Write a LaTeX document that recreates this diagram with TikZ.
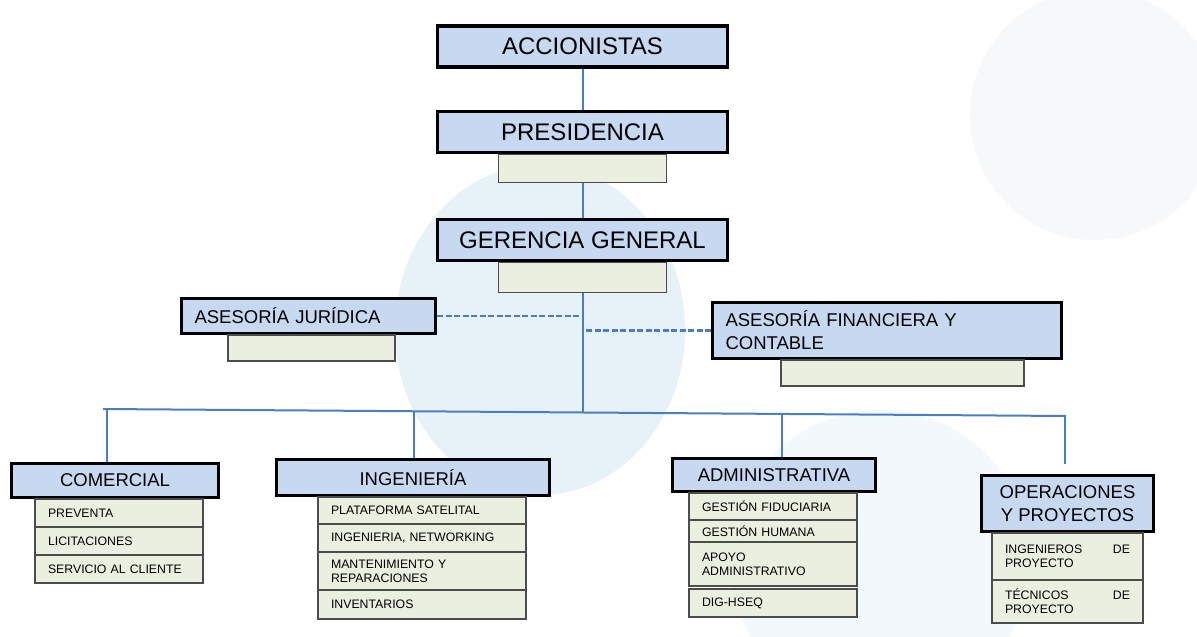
\documentclass[tikz,border=0pt]{standalone}
\usepackage{fontspec}
\setsansfont{Liberation Sans}
\usetikzlibrary{
	positioning,
	calc,
	backgrounds,
}
\definecolor{MyBlue}{HTML}{C6D9F1}
\definecolor{MyBeige}{HTML}{EBEFDF}
\definecolor{MyLine}{HTML}{4A7EC2}
\definecolor{MyHalo}{HTML}{E7F2F8}
\definecolor{MyMist}{HTML}{F2F8FB}
\definecolor{MyGrey}{HTML}{F7F8F9}
\tikzset{every picture/.style={/utils/exec={\sffamily}}}

\begin{document}
\begin{tikzpicture}[x=1pt,y=-1pt,
		every node/.style={inner sep=0pt,outer sep=0pt},
		cabeza/.style={draw=black,line width=3.2pt,outer sep=1.6pt,fill=MyBlue,font=\fontsize{24}{28}\selectfont,minimum width=289.5pt,minimum height=41pt},
		area/.style={draw=black,line width=3pt,outer sep=1.5pt,fill=MyBlue,font=\fontsize{18.5}{23}\selectfont,align=center},
		cargo/.style={draw=black!70,line width=1.1pt,fill=MyBeige,font=\fontsize{12.3}{14}\selectfont,align=left,inner xsep=13pt,text width=#1},
		enlace/.style={draw=MyLine,line width=2pt},
		asesor/.style={draw=MyLine,line width=2.8pt,dash pattern=on 6pt off 2.5pt},
	]

	\useasboundingbox (0,0) rectangle (1197,637);

	% cabeza
	\node (acc) [cabeza] at (582.5,46.5) {ACCIONISTAS};
	\node (pres) [cabeza] at (582.5,132) {PRESIDENCIA};
	\node (pres1) [cargo=142pt,minimum height=28pt,below=0pt of pres] {};
	\node (ger) [cabeza] at (582.5,240) {GERENCIA GENERAL};
	\node (ger1) [cargo=142pt,minimum height=30pt,below=0pt of ger] {};

	% asesorias
	\node (jur) [area,align=left,text width=228pt,minimum width=254pt,minimum height=35pt] at (308.5,316) {ASESORÍA JURÍDICA};
	\node (jur1) [cargo=141pt,minimum height=26pt,below=0pt of jur,xshift=3pt] {};
	\node (fin) [area,align=left,text width=323pt,minimum width=349pt,minimum height=56pt] at (887,330.5) {ASESORÍA FINANCIERA Y\\CONTABLE};
	\node (fin1) [cargo=217pt,minimum height=26pt,below=0pt of fin,xshift=15.5pt] {};

	% areas
	\node (com) [area,minimum width=207pt,minimum height=34pt] at (115,480.5) {COMERCIAL};
	\node (com1) [cargo=142pt,minimum height=28pt,below=0pt of com,xshift=4pt] {PREVENTA};
	\node (com2) [cargo=142pt,minimum height=28pt,below=0pt of com1] {LICITACIONES};
	\node (com3) [cargo=142pt,minimum height=28pt,below=0pt of com2] {SERVICIO AL CLIENTE};

	\node (ing) [area,minimum width=273pt,minimum height=36pt] at (413,477.5) {INGENIERÍA};
	\node (ing1) [cargo=182pt,minimum height=27pt,below=0pt of ing,xshift=9pt] {PLATAFORMA SATELITAL};
	\node (ing2) [cargo=182pt,minimum height=28pt,below=0pt of ing1] {INGENIERIA, NETWORKING};
	\node (ing3) [cargo=182pt,minimum height=38pt,below=0pt of ing2] {MANTENIMIENTO Y\\REPARACIONES};
	\node (ing4) [cargo=182pt,minimum height=29pt,below=0pt of ing3] {INVENTARIOS};

	\node (adm) [area,minimum width=203pt,minimum height=33pt] at (774,475) {ADMINISTRATIVA};
	\node (adm1) [cargo=142pt,minimum height=27pt,below=0pt of adm,xshift=-1pt] {GESTIÓN FIDUCIARIA};
	\node (adm2) [cargo=142pt,minimum height=22pt,below=0pt of adm1] {GESTIÓN HUMANA};
	\node (adm3) [cargo=142pt,minimum height=44pt,below=0pt of adm2] {APOYO\\ADMINISTRATIVO};
	\node (adm4) [cargo=142pt,minimum height=28pt,below=3pt of adm3] {DIG-HSEQ};

	\node (ope) [area,minimum width=172pt,minimum height=56pt] at (1067.5,503.5) {OPERACIONES\\Y PROYECTOS};
	\node (ope1) [cargo=125pt,minimum height=47pt,below=0pt of ope] {INGENIEROS\hfill DE\\PROYECTO};
	\node (ope2) [cargo=125pt,minimum height=43pt,below=0pt of ope1] {TÉCNICOS\hfill DE\\PROYECTO};

	% bus
	\coordinate (busL) at (103,409);
	\coordinate (busR) at (1066,416);
	\coordinate (bus) at (583,412.5);
	\coordinate (dcom) at (107,409);
	\coordinate (ding) at (414,411.3);
	\coordinate (dadm) at (782,414);
	\coordinate (dope) at (1065,416);
	\coordinate (dopefin) at (1065,464);

	\begin{scope}[on background layer]
		\fill[white] (0,0) rectangle (1197,637);
		\fill[MyGrey] (1095,115) circle (125pt);
		\fill[MyMist] (880,560) circle (150pt);
		\fill[MyHalo] (540,330) ellipse [x radius=145pt,y radius=165pt];

		\draw[enlace] (acc) -- (pres);
		\draw[enlace] (pres1) -- (ger);
		\draw[enlace] (ger1) -- (ger1.south |- bus);
		\draw[asesor] (jur.east) -- (jur.east -| ger1.south);
		\draw[asesor] (fin.west) -- (fin.west -| ger1.south);
		\draw[enlace] (busL) -- (busR);
		\draw[enlace] (dcom) -- (dcom |- com.north);
		\draw[enlace] (ding) -- (ding |- ing.north);
		\draw[enlace] (dadm) -- (dadm |- adm.north);
		\draw[enlace] (dope) -- (dopefin);
	\end{scope}
\end{tikzpicture}
\end{document}
